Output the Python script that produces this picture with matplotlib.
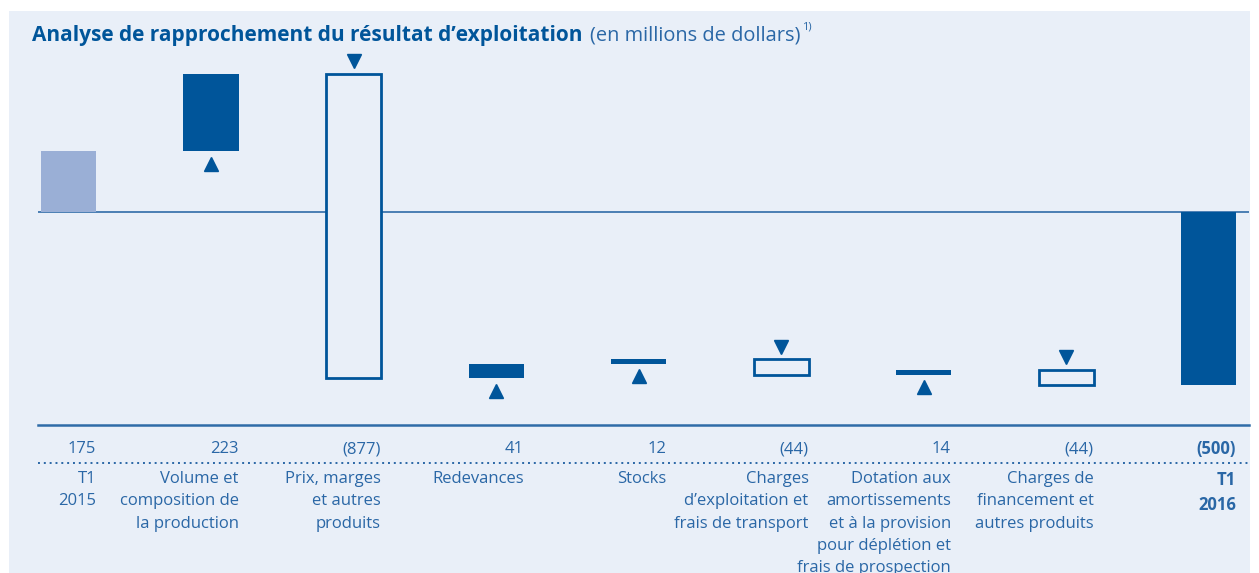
import matplotlib.pyplot as plt
import matplotlib.transforms as mtransforms
from matplotlib.lines import Line2D
from matplotlib.patches import Rectangle
import numpy as np

# data
labels = ["T1\n2015", "Volume et\ncomposition de\nla production", "Prix, marges\net autres\nproduits",
          "Redevances", "Stocks", "Charges\nd\u2019exploitation et\nfrais de transport",
          "Dotation aux\namortissements\net \u00e0 la provision\npour d\u00e9pl\u00e9tion et\nfrais de prospection",
          "Charges de\nfinancement et\nautres produits", "T1\n2016"]
start = 175
steps = [223, -877, 41, 12, -44, 14, -44]
total = -500
value_text = ["175", "223", "(877)", "41", "12", "(44)", "14", "(44)", "(500)"]

DARK = "#00559a"
LIGHT = "#9aafd6"
BG = "#e9eff8"
TXT = "#2a67a6"

plt.rcParams['font.family'] = ['Open Sans', 'DejaVu Sans']

fig = plt.figure(figsize=(12.59, 5.73), dpi=100)
W, H = 1259, 573
fig.add_artist(Rectangle((9 / W, 0), (1250 - 9) / W, 1 - 11 / H, transform=fig.transFigure,
                         facecolor=BG, edgecolor="none", zorder=-10))

ax = fig.add_axes([38 / W, 1 - 425 / H, (1249 - 38) / W, (425 - 60) / H])
ax.set_facecolor("none")
ax.axis("off")
ax.set_ylim(-615.6, 439)
ax.set_xlim(-0.214, 8.284)

bw = 0.386
off = 37
x = np.arange(len(labels))

# first bar
ax.bar(x[0], start, width=bw, color=LIGHT, zorder=2)

cum = start
for i, s in enumerate(steps, start=1):
    bottom = cum if s > 0 else cum + s
    if s > 0:
        ax.bar(x[i], s, bottom=bottom, width=bw, color=DARK, zorder=2)
        ax.plot(x[i], bottom - off, marker="^", ms=10.5, color=DARK, zorder=3, clip_on=False)
    else:
        ax.bar(x[i], -s, bottom=bottom, width=bw, facecolor=BG, edgecolor=DARK, linewidth=2, zorder=2)
        ax.plot(x[i], cum + off, marker="v", ms=10.5, color=DARK, zorder=3, clip_on=False)
    cum += s

ax.bar(x[-1], total, width=bw, color=DARK, zorder=2)

ax.axhline(0, color="#2f6ca8", lw=1.2, zorder=1)
ax.axhline(-615.6, color="#2f6ca8", lw=1.8, zorder=1, clip_on=False)

fig.add_artist(Line2D([38 / W, 1249 / W], [1 - 463 / H] * 2, transform=fig.transFigure,
                      color=TXT, lw=1.4, linestyle=(0, (1, 2))))

tr = mtransforms.blended_transform_factory(ax.transData, fig.transFigure)
for i in range(len(labels)):
    bold = "bold" if i == len(labels) - 1 else "normal"
    ax.text(x[i] + bw / 2, 1 - 449 / H, value_text[i], transform=tr, ha="right", va="center",
            fontsize=12, color=TXT, fontweight=bold)
    ax.text(x[i] + bw / 2, 1 - 471 / H, labels[i], transform=tr, ha="right", va="top",
            fontsize=12, color=TXT, fontweight=bold, linespacing=1.53,
            multialignment="right")

title_y = 1 - 35 / H
t1 = fig.text(32 / W, title_y, "Analyse de rapprochement du r\u00e9sultat d\u2019exploitation",
              fontsize=15, fontweight="bold", color=DARK, va="center")
fig.canvas.draw()
bb = t1.get_window_extent()
t2 = fig.text(bb.x1 / W + 8 / W, title_y, "(en millions de dollars)", fontsize=14.4, color=TXT, va="center")
bb2 = t2.get_window_extent()
fig.text(bb2.x1 / W + 1 / W, title_y + 8 / H, "1)", fontsize=8, color=TXT, va="center")

fig.savefig("out.png", dpi=100, facecolor="white")
